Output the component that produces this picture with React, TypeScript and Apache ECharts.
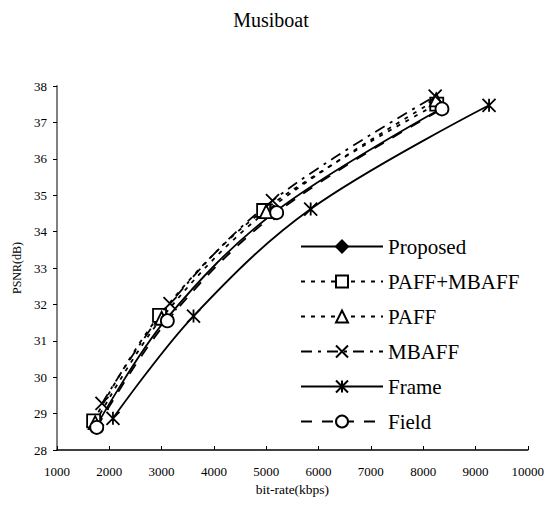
import React, { useEffect, useRef } from "react";
import * as echarts from "echarts";

const titleText = "Musiboat";
const xName = "bit-rate(kbps)";
const yName = "PSNR(dB)";
const seriesNames = ["Proposed", "PAFF+MBAFF", "PAFF", "MBAFF", "Frame", "Field"];

const proposed: [number, number][] = [[1760, 28.68], [3080, 31.58], [5150, 34.52], [8350, 37.38]];
const paffMbaff: [number, number][] = [[1700, 28.8], [2960, 31.7], [4950, 34.58], [8260, 37.5]];
const paff: [number, number][] = [[1730, 28.75], [3000, 31.62], [5000, 34.55], [8250, 37.62]];
const mbaff: [number, number][] = [[1860, 29.28], [3160, 32.02], [5120, 34.85], [8230, 37.72]];
const frame: [number, number][] = [[2070, 28.87], [3610, 31.68], [5850, 34.62], [9260, 37.47]];
const field: [number, number][] = [[1760, 28.62], [3110, 31.55], [5200, 34.52], [8360, 37.37]];

const FONT = "Times New Roman, Liberation Serif, serif";
const X_PATH = "path://M0,0L10,10M10,0L0,10";
const STAR_PATH = "path://M0,0L10,10M10,0L0,10M5,0L5,10";

export default function App() {
  const ref = useRef<HTMLDivElement>(null);
  useEffect(() => {
    if (!ref.current) return;
    const chart = echarts.init(ref.current, undefined, { renderer: "svg" });
    const base = (name: string, data: [number, number][], dash: any, symbol: string, size: number, fill: string) => ({
      name,
      type: "line",
      data,
      smooth: 0.35,
      symbol,
      symbolSize: size,
      showSymbol: true,
      lineStyle: { color: "#000", width: 1.8, type: dash },
      itemStyle: { color: fill, borderColor: "#000", borderWidth: 1.8 },
      emphasis: { disabled: true },
      z: 2,
    });
    chart.setOption({
      animation: false,
      backgroundColor: "#fff",
      textStyle: { fontFamily: FONT },
      title: {
        text: titleText,
        left: 266,
        top: 5,
        textAlign: "center",
        textStyle: { fontFamily: FONT, fontSize: 20, fontWeight: "normal", color: "#000" },
      },
      grid: { left: 57, right: 19, top: 86, bottom: 55 },
      legend: {
        orient: "vertical",
        left: 300,
        top: 236,
        padding: 0,
        itemWidth: 82,
        itemHeight: 15,
        itemGap: 14,
        data: seriesNames,
        textStyle: { fontFamily: FONT, fontSize: 21, color: "#000" },
      },
      xAxis: {
        type: "value",
        min: 1000,
        max: 10000,
        interval: 1000,
        name: xName,
        nameLocation: "middle",
        nameGap: 32,
        nameTextStyle: { fontFamily: FONT, fontSize: 13.5, color: "#000" },
        axisLine: { lineStyle: { color: "#000", width: 1.5 } },
        axisTick: { inside: true, length: 4, lineStyle: { color: "#000" } },
        axisLabel: { fontFamily: FONT, fontSize: 13, color: "#000", margin: 15, formatter: (v: number) => String(v) },
        splitLine: { show: false },
      },
      yAxis: {
        type: "value",
        min: 28,
        max: 38,
        interval: 1,
        name: yName,
        nameLocation: "middle",
        nameGap: 34,
        nameTextStyle: { fontFamily: FONT, fontSize: 12, color: "#000" },
        axisLine: { show: true, lineStyle: { color: "#808080", width: 2 } },
        axisTick: { show: true, inside: false, length: 4, lineStyle: { color: "#000" } },
        axisLabel: { fontFamily: FONT, fontSize: 13, color: "#000", margin: 10, formatter: (v: number) => String(v) },
        splitLine: { show: false },
      },
      series: [
        base(seriesNames[0], proposed, "solid", "diamond", 13, "#000"),
        base(seriesNames[1], paffMbaff, [4, 6], "rect", 13, "#fff"),
        base(seriesNames[2], paff, [4, 6], "triangle", 13, "#fff"),
        base(seriesNames[3], mbaff, [11, 6, 3, 6], X_PATH, 13, "none"),
        base(seriesNames[4], frame, "solid", STAR_PATH, 13, "none"),
        base(seriesNames[5], field, [11, 10], "circle", 13, "#fff"),
      ],
    });
    return () => chart.dispose();
  }, []);
  return (
    <div
      ref={ref}
      style={{ position: "fixed", left: 0, top: 0, width: 547, height: 505, background: "#fff" }}
    />
  );
}
